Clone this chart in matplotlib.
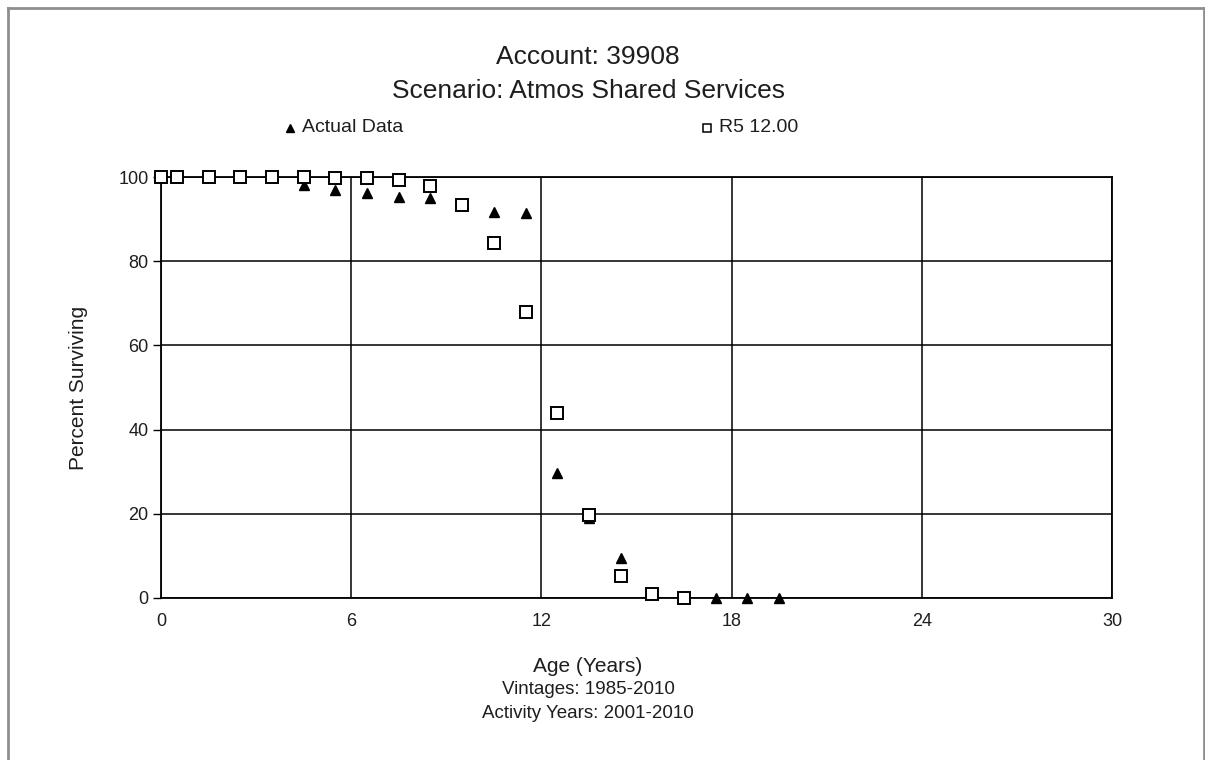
import matplotlib
matplotlib.use("Agg")
import matplotlib.pyplot as plt
from matplotlib.lines import Line2D

# Survivor curve data
actual_age = [0.0, 0.5, 1.5, 2.5, 3.5, 4.5, 5.5, 6.5, 7.5, 8.5, 9.5,
              10.5, 11.5, 12.5, 13.5, 14.5, 15.5, 16.5, 17.5, 18.5, 19.5]
actual_pct = [100.0, 100.0, 100.0, 100.0, 100.0, 98.2, 96.8, 96.2, 95.2, 95.0, 93.3,
              91.8, 91.5, 29.7, 19.0, 9.6, 1.5, 0.3, 0.0, 0.0, 0.0]

fit_age = [0.0, 0.5, 1.5, 2.5, 3.5, 4.5, 5.5, 6.5, 7.5, 8.5, 9.5,
           10.5, 11.5, 12.5, 13.5, 14.5, 15.5, 16.5]
fit_pct = [100.0, 100.0, 100.0, 100.0, 100.0, 99.9, 99.8, 99.7, 99.3, 97.9, 93.3,
           84.3, 68.0, 44.0, 19.7, 5.2, 1.0, 0.1]

x_ticks = [0, 6, 12, 18, 24, 30]
y_ticks = [0, 20, 40, 60, 80, 100]

title_lines = ["Account: 39908", "Scenario: Atmos Shared Services"]
x_label_lines = ["Age (Years)", "Vintages: 1985-2010", "Activity Years: 2001-2010"]
y_label = "Percent Surviving"
actual_name = "Actual Data"
fit_name = "R5 12.00"

plt.rcParams['font.family'] = ['Liberation Sans', 'DejaVu Sans']
txt_col = "#1e1e1e"

W, H = 1205, 760
fig = plt.figure(figsize=(W / 100, H / 100), dpi=100)
fig.patch.set_facecolor("white")


def fx(px):
    return px / W


def fy(py):
    return 1 - py / H


# outer frame (left, top, right)
frame_col = "#8f8f8f"
for xs, ys in [([8, 8], [H, 8]), ([8, 1204], [8, 8]), ([1204, 1204], [8, H])]:
    fig.add_artist(Line2D([fx(v) for v in xs], [fy(v) for v in ys],
                          transform=fig.transFigure, color=frame_col, lw=2))

ax = fig.add_axes([fx(161), fy(598), fx(1112 - 161), (598 - 177) / H])
ax.set_xlim(0, 30)
ax.set_ylim(0, 100)
ax.set_xticks(x_ticks)
ax.set_yticks(y_ticks)
ax.tick_params(axis="x", length=0, pad=11, labelsize=13, labelcolor=txt_col)
ax.tick_params(axis="y", length=6, width=1, direction="out", pad=3, labelsize=13,
               labelcolor=txt_col, color="black")
for s in ax.spines.values():
    s.set_color("black")
    s.set_linewidth(1.3)
ax.grid(True, color="black", lw=1.1)
ax.set_axisbelow(True)

ax.plot(actual_age, actual_pct, linestyle="none", marker="^", ms=7.5,
        color="black", zorder=3, clip_on=False)
ax.plot(fit_age, fit_pct, linestyle="none", marker="s", ms=8.5,
        markerfacecolor="white", markeredgecolor="black", markeredgewidth=1.4,
        zorder=4, clip_on=False)

ax.set_ylabel(y_label, fontsize=15, color=txt_col, labelpad=22)

cx = fx(588)
fig.text(cx, fy(57), title_lines[0], ha="center", va="center", fontsize=19,
         color=txt_col)
fig.text(cx, fy(91), title_lines[1], ha="center", va="center", fontsize=19,
         color=txt_col)

# legend row
ly = fy(128)
fig.add_artist(Line2D([fx(290)], [ly], transform=fig.transFigure, linestyle="none",
                      marker="^", ms=6, color="black"))
fig.text(fx(302), ly, actual_name, ha="left", va="center", fontsize=14, color=txt_col)
fig.add_artist(Line2D([fx(707)], [ly], transform=fig.transFigure, linestyle="none",
                      marker="s", ms=6, markerfacecolor="white",
                      markeredgecolor="black", markeredgewidth=1.1))
fig.text(fx(719), ly, fit_name, ha="left", va="center", fontsize=14, color=txt_col)

for i, t in enumerate(x_label_lines):
    fig.text(cx, fy(667 + 23 * i), t, ha="center", va="center",
             fontsize=15 if i == 0 else 13.5, color=txt_col)

fig.savefig("out.png", dpi=100)
